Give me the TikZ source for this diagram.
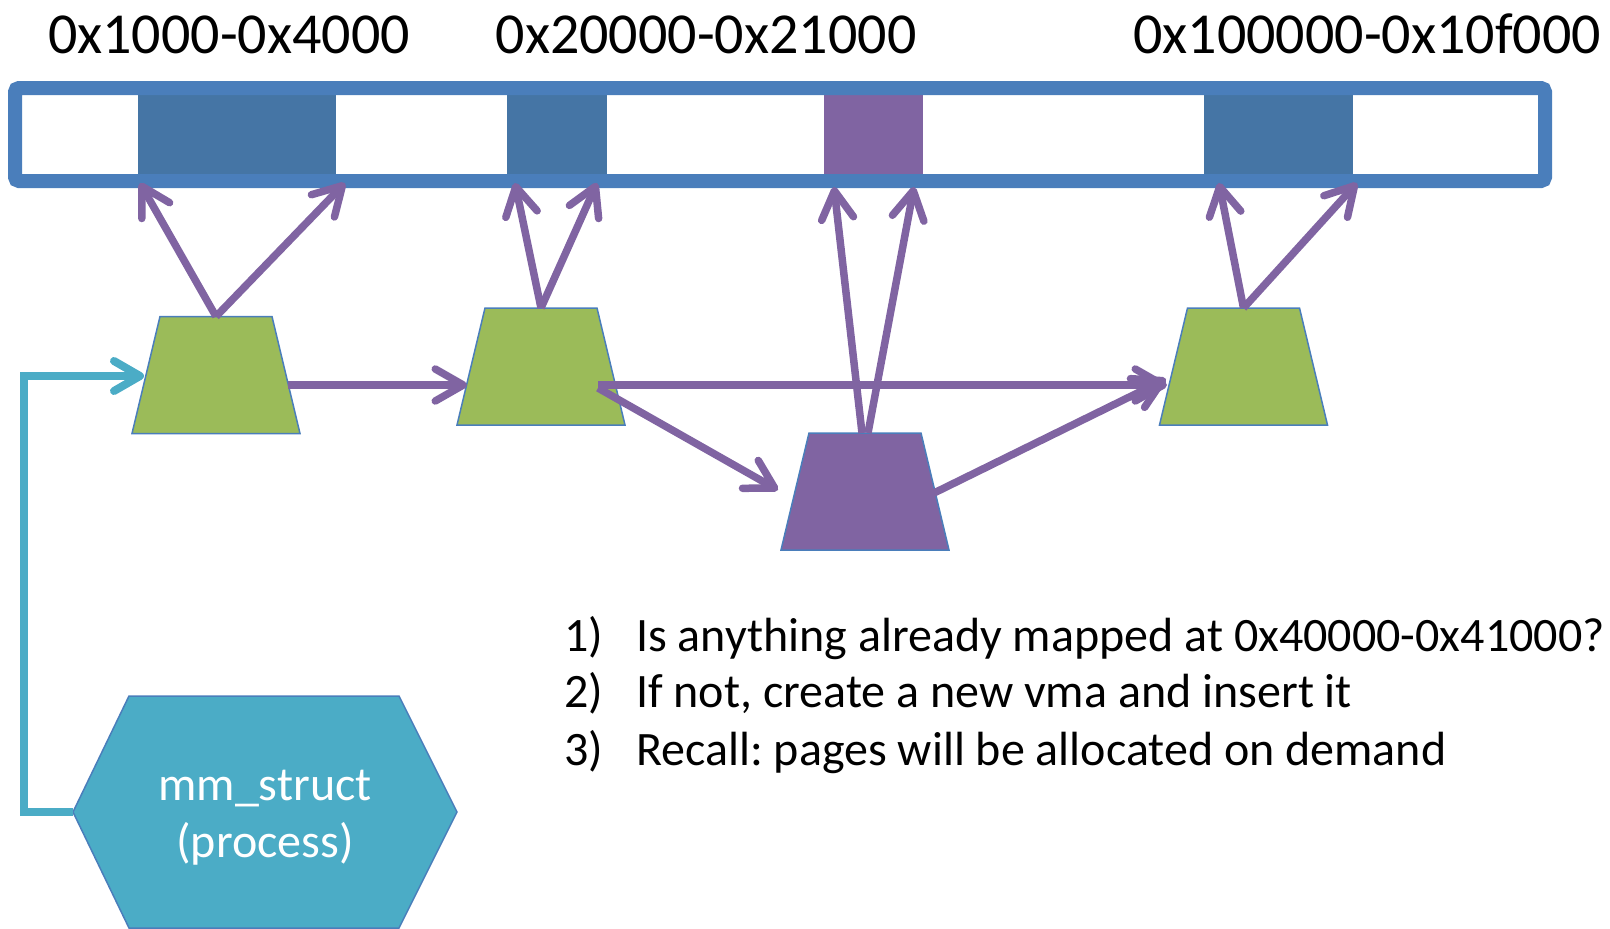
\documentclass[tikz,border=0pt]{standalone}
\usepackage{fontspec}
\setmainfont{Carlito}
\usetikzlibrary{arrows.meta,calc}
\definecolor{frameblue}{RGB}{74,126,187}
\definecolor{blockblue}{RGB}{69,117,165}
\definecolor{vpurple}{RGB}{128,100,162}
\definecolor{vgreen}{RGB}{155,187,89}
\definecolor{vteal}{RGB}{75,172,198}
\frenchspacing
\begin{document}
\begin{tikzpicture}[x=1pt,y=-1pt,
  vbox/.style={minimum width=168pt, minimum height=117pt, inner sep=0pt, outer sep=0pt},
  vmaedge/.style={draw=frameblue, line width=1.5pt},
  blk/.style={minimum height=93pt, inner sep=0pt, outer sep=0pt},
  parr/.style={draw=vpurple, line width=7.5pt,
    -{Straight Barb[length=28pt,width=32pt,round]}},
  tarr/.style={draw=vteal, line width=8pt,
    -{Straight Barb[length=26pt,width=30pt,round]}},
  toplbl/.style={anchor=base, inner sep=0pt, font=\fontsize{58}{70}\selectfont},
  lst/.style={anchor=base west, inner sep=0pt, font=\fontsize{48}{57}\selectfont},
  hextxt/.style={anchor=base, inner sep=0pt, text=white, font=\fontsize{48}{57}\selectfont}
]
\useasboundingbox (0,0) rectangle (1610,929);

% labels
\node[toplbl] (l1) at (229,53) {0x1000-0x4000};
\node[toplbl] (l2) at (706,53) {0x20000-0x21000};
\node[toplbl] (l3) at (1367,53) {0x100000-0x10f000};

% address space blocks
\node[blk, fill=blockblue, minimum width=198pt] (b1) at (237,134.5) {};
\node[blk, fill=blockblue, minimum width=100pt] (b2) at (557,134.5) {};
\node[blk, fill=vpurple, minimum width=99pt] (b3) at (873.5,134.5) {};
\node[blk, fill=blockblue, minimum width=149pt] (b4) at (1278.5,134.5) {};
\draw[frameblue, line width=14pt, rounded corners=4pt] (15,88) rectangle (1545,181);

% vma trapezoids (named boxes, drawn as trapezoids)
\node[vbox] (T1) at (216,375) {};
\node[vbox] (T2) at (541,366.5) {};
\node[vbox] (T3) at (865,491.5) {};
\node[vbox] (T4) at (1243.5,366.5) {};
\foreach \t/\c in {T1/vgreen,T2/vgreen,T3/vpurple,T4/vgreen}{
  \filldraw[vmaedge, fill=\c] (\t.south west) -- ($(\t.north west)+(28,0)$)
    -- ($(\t.north east)+(-28,0)$) -- (\t.south east) -- cycle;
}

% mapping arrows
\draw[parr] (T1.north) -- ($(b1.south west)+(2,2)$);
\draw[parr] (T1.north) -- ($(b1.south east)+(9,2)$);
\draw[parr] (T2.north) -- ($(b2.south west)+(8,2)$);
\draw[parr] (T2.north) -- ($(b2.south east)+(-10,2)$);
\draw[parr] ($(T3.north)+(-3,0)$) -- ($(b3.south west)+(10,6)$);
\draw[parr] ($(T3.north)+(3,0)$) -- ($(b3.south east)+(-9,6)$);
\draw[parr] (T4.north) -- ($(b4.south west)+(15,2)$);
\draw[parr] (T4.north) -- ($(b4.south east)+(4,2)$);

% list arrows
\draw[parr] ($(T1.east)+(-12,10)$) -- ($(T2.west)+(10,18.5)$);
\draw[parr] ($(T2.east)+(-27,18.5)$) -- ($(T4.west)+(7.5,18.5)$);
\draw[parr] ($(T2.east)+(-27,21.5)$) -- ($(T3.west)+(-3,-1.5)$);
\draw[parr] ($(T3.east)+(-15,1.5)$) -- ($(T4.west)+(6.5,12.5)$);

% mm_struct hexagon
\coordinate (hexL) at (73,812);
\filldraw[vmaedge, fill=vteal] (hexL) -- (129,696) -- (399,696) -- (457,812) -- (399,928) -- (129,928) -- cycle;
\node[hextxt] (h1) at (265,800) {mm\_struct};
\node[hextxt] (h2) at (265,857) {(process)};

\draw[tarr] (hexL) -- ++(-49,0) |- ($(T1.west)+(12,1)$);

% list text
\node[lst] (n1) at (564,651) {1)};
\node[lst] (t1) at (636,651) {Is anything already mapped at 0x40000-0x41000?};
\node[lst] (n2) at (564,707) {2)};
\node[lst] (t2) at (636,707) {If not, create a new vma and insert it};
\node[lst] (n3) at (564,765) {3)};
\node[lst] (t3) at (636,765) {Recall: pages will be allocated on demand};
\end{tikzpicture}
\end{document}
